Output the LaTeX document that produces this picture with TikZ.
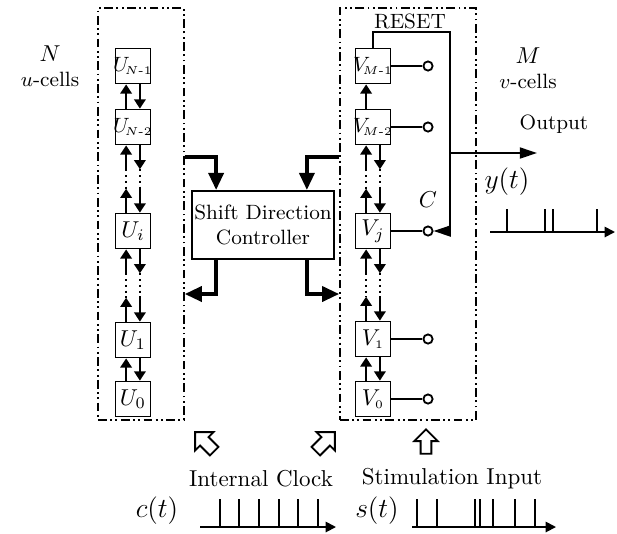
\documentclass[tikz,border=0pt]{standalone}
\usepackage{amsmath}
\usepackage{tikz}
\usetikzlibrary{arrows.meta, positioning}

\begin{document}
\begin{tikzpicture}[
    x=0.435pt, y=-0.435pt,
    cellgroup/.style={rectangle, draw=black, semithick, dash pattern=on 3.8pt off 1.5pt on 0.8pt off 1.5pt on 0.8pt off 1.5pt, minimum height=179.2pt, inner sep=0pt},
    cell/.style={rectangle, draw=black, fill=white, thick, minimum width=15.2pt, minimum height=15.2pt, inner sep=0pt},
    port/.style={circle, draw=black, fill=white, thick, minimum size=4pt, inner sep=0pt},
    ctrl/.style={rectangle, draw=black, fill=white, thick, minimum width=60.9pt, minimum height=29.6pt, inner xsep=1pt, align=center, font=\small},
    hop/.style={draw=black, thick, -{Triangle[length=4pt, width=5pt]}},
    gapline/.style={draw=black, thick, dash pattern=on 0.9pt off 1.6pt},
    bus/.style={draw=black, line width=1.7pt, -{Triangle[length=7.5pt, width=6.5pt]}},
    wire/.style={draw=black, thick},
    sig/.style={draw=black, thick, -{Triangle[length=7.5pt, width=4.8pt]}},
    axis/.style={draw=black, thick, -{Triangle[length=4.5pt, width=4.5pt]}},
    spike/.style={draw=black, line width=0.9pt},
    hollow/.pic={\draw[black, thick, line join=miter] (0,-14) -- (13,-1) -- (6,-1) -- (6,13) -- (-6,13) -- (-6,-1) -- (-13,-1) -- cycle;}
]
    \useasboundingbox (0,0) rectangle (617,533);

    % Cell groups
    \node[cellgroup, minimum width=37.4pt] (UGRP) at (141,214) {};
    \node[cellgroup, minimum width=59.2pt] (VGRP) at (408,214) {};
    \node[align=center] (NLBL) at (50,66) {$N$\\[-1pt]{\small $u$-cells}};
    \node[align=center] (MLBL) at (528,68) {$M$\\[-1pt]{\small $v$-cells}};

    % u-cells
    \node[cell] (UN1) at (133,66) {\makebox[0pt]{\small$U_{\scriptscriptstyle\!N\text{-}1}$}};
    \node[cell] (UN2) at (133,127) {\makebox[0pt]{\small$U_{\scriptscriptstyle\!N\text{-}2}$}};
    \node[cell] (UI) at (133,231) {$U_i$};
    \node[cell] (U1) at (133,340) {$U_1$};
    \node[cell] (U0) at (133,399) {$U_0$};

    \draw[hop] ([xshift=-3pt]UN2.north) -- ([xshift=-3pt]UN1.south);
    \draw[hop] ([xshift=3pt]UN1.south) -- ([xshift=3pt]UN2.north);
    \draw[hop] ([xshift=-3pt, yshift=-10.4pt]UN2.south) -- ([xshift=-3pt]UN2.south);
    \draw[hop] ([xshift=3pt]UN2.south) -- ([xshift=3pt, yshift=-10.4pt]UN2.south);
    \draw[gapline] ([xshift=-3pt, yshift=-10.4pt]UN2.south) -- ([xshift=-3pt, yshift=10.4pt]UI.north)
                   ([xshift=3pt, yshift=-10.4pt]UN2.south) -- ([xshift=3pt, yshift=10.4pt]UI.north);
    \draw[hop] ([xshift=-3pt]UI.north) -- ([xshift=-3pt, yshift=10.4pt]UI.north);
    \draw[hop] ([xshift=3pt, yshift=10.4pt]UI.north) -- ([xshift=3pt]UI.north);
    \draw[hop] ([xshift=-3pt, yshift=-10.4pt]UI.south) -- ([xshift=-3pt]UI.south);
    \draw[hop] ([xshift=3pt]UI.south) -- ([xshift=3pt, yshift=-10.4pt]UI.south);
    \draw[gapline] ([xshift=-3pt, yshift=-10.4pt]UI.south) -- ([xshift=-3pt, yshift=10.4pt]U1.north)
                   ([xshift=3pt, yshift=-10.4pt]UI.south) -- ([xshift=3pt, yshift=10.4pt]U1.north);
    \draw[hop] ([xshift=-3pt]U1.north) -- ([xshift=-3pt, yshift=10.4pt]U1.north);
    \draw[hop] ([xshift=3pt, yshift=10.4pt]U1.north) -- ([xshift=3pt]U1.north);
    \draw[hop] ([xshift=-3pt]U0.north) -- ([xshift=-3pt]U1.south);
    \draw[hop] ([xshift=3pt]U1.south) -- ([xshift=3pt]U0.north);

    % v-cells
    \node[cell] (VM1) at (373,66) {\makebox[0pt]{\small$V_{\scriptscriptstyle\!M\text{-}1}$}};
    \node[cell] (VM2) at (373,127) {\makebox[0pt]{\small$V_{\scriptscriptstyle\!M\text{-}2}$}};
    \node[cell] (VJ) at (373,231) {$V_j$};
    \node[cell] (V1) at (373,339) {$V_{\scriptscriptstyle 1}$};
    \node[cell] (V0) at (373,399) {$V_{\scriptscriptstyle 0}$};

    \draw[hop] ([xshift=-3pt]VM2.north) -- ([xshift=-3pt]VM1.south);
    \draw[hop] ([xshift=-3pt, yshift=-10.4pt]VM2.south) -- ([xshift=-3pt]VM2.south);
    \draw[hop] ([xshift=3pt]VM2.south) -- ([xshift=3pt, yshift=-10.4pt]VM2.south);
    \draw[gapline] ([xshift=-3pt, yshift=-10.4pt]VM2.south) -- ([xshift=-3pt, yshift=10.4pt]VJ.north)
                   ([xshift=3pt, yshift=-10.4pt]VM2.south) -- ([xshift=3pt, yshift=10.4pt]VJ.north);
    \draw[hop] ([xshift=-3pt]VJ.north) -- ([xshift=-3pt, yshift=10.4pt]VJ.north);
    \draw[hop] ([xshift=3pt, yshift=10.4pt]VJ.north) -- ([xshift=3pt]VJ.north);
    \draw[hop] ([xshift=-3pt, yshift=-10.4pt]VJ.south) -- ([xshift=-3pt]VJ.south);
    \draw[hop] ([xshift=3pt]VJ.south) -- ([xshift=3pt, yshift=-10.4pt]VJ.south);
    \draw[gapline] ([xshift=-3pt, yshift=-10.4pt]VJ.south) -- ([xshift=-3pt, yshift=10.4pt]V1.north)
                   ([xshift=3pt, yshift=-10.4pt]VJ.south) -- ([xshift=3pt, yshift=10.4pt]V1.north);
    \draw[hop] ([xshift=-3pt]V1.north) -- ([xshift=-3pt, yshift=10.4pt]V1.north);
    \draw[hop] ([xshift=3pt, yshift=10.4pt]V1.north) -- ([xshift=3pt]V1.north);
    \draw[hop] ([xshift=-3pt]V0.north) -- ([xshift=-3pt]V1.south);
    \draw[hop] ([xshift=3pt]V1.south) -- ([xshift=3pt]V0.north);

    % Output ports
    \node[port] (CM1) at (428,66) {};
    \node[port] (CM2) at (428,127) {};
    \node[port] (CJ) at (428,231) {};
    \node[port] (C1) at (428,339) {};
    \node[port] (C0) at (428,399) {};
    \draw[wire] (VM1.east) -- (CM1);
    \draw[wire] (VM2.east) -- (CM2);
    \draw[wire] (VJ.east) -- (CJ);
    \draw[wire] (V1.east) -- (C1);
    \draw[wire] (V0.east) -- (C0);

    % Reset loop and output
    \coordinate (RST) at (450,32);
    \coordinate (OUT) at (537,153);
    \draw[sig] (VM1.north) |- (RST) |- (CJ);
    \draw[sig] (RST |- OUT) -- (OUT);
    \node[font=\small] (RSTLBL) at (410,21) {RESET};
    \node (CLBL) at (428,200) {$C$};
    \node[font=\small] (OUTLBL) at (554,124) {Output};
    \node[font=\large] (YLBL) at (507,182) {$y(t)$};

    % Output spike train
    \coordinate (Y0) at (490,232);
    \coordinate (Y1) at (615,232);
    \draw[axis] (Y0) -- (Y1);
    \draw[spike] (507,209) -- (507,232) (545,209) -- (545,232) (553,209) -- (553,232) (597,209) -- (597,232);

    % Shift direction controller
    \node[ctrl] (SDC) at (263,225) {Shift Direction\\Controller};
    \draw[bus] ([yshift=24.8pt]UGRP.east) -| ([xshift=10.9pt]SDC.north west);
    \draw[bus] ([yshift=24.8pt]VGRP.west) -| ([xshift=-12.2pt]SDC.north east);
    \draw[bus] ([xshift=10.9pt]SDC.south west) |- ([yshift=-34.8pt]UGRP.east);
    \draw[bus] ([xshift=-12.2pt]SDC.south east) |- ([yshift=-34.8pt]VGRP.west);

    % Inputs
    \pic[rotate=45] (CLKL) at (205,442) {hollow};
    \pic[rotate=-45] (CLKR) at (325,442) {hollow};
    \pic[scale=0.9] (STIM) at (426,442) {hollow};
    \node (CLKLBL) at (261,479) {Internal Clock};
    \node (STIMLBL) at (452,479) {Stimulation Input};
    \node[font=\large] (CTLBL) at (157,511) {$c(t)$};
    \node[font=\large] (STLBL) at (377,511) {$s(t)$};

    % Clock and stimulation spike trains
    \coordinate (CA) at (200,527);
    \coordinate (CB) at (336,527);
    \draw[axis] (CA) -- (CB);
    \draw[spike] (220,499) -- (220,527) (239,499) -- (239,527) (259,499) -- (259,527)
                 (279,499) -- (279,527) (298,499) -- (298,527) (318,499) -- (318,527);
    \coordinate (SA) at (412,527);
    \coordinate (SB) at (556,527);
    \draw[axis] (SA) -- (SB);
    \draw[spike] (417,499) -- (417,527) (437,499) -- (437,527) (475,499) -- (475,527) (480,499) -- (480,527)
                 (493,499) -- (493,527) (515,499) -- (515,527) (535,499) -- (535,527);
\end{tikzpicture}
\end{document}
